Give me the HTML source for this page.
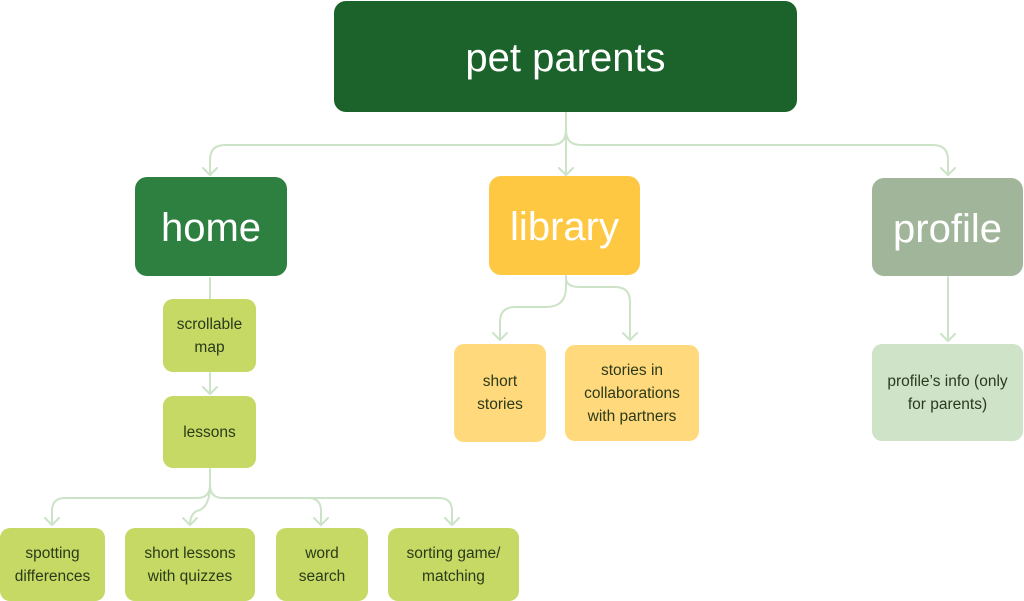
<!DOCTYPE html>
<html><head><style>
body{margin:0;width:1024px;height:601px;background:#fff;position:relative;overflow:hidden;font-family:"Liberation Sans",sans-serif}
.b{position:absolute;display:flex;align-items:center;justify-content:center;text-align:center;box-sizing:border-box}
.big{color:#fff;font-size:40px;border-radius:12px;padding-top:4px}
.sm{color:#2b3a1a;font-size:15.5px;line-height:23px;border-radius:10px}
svg{position:absolute;left:0;top:0}
</style></head><body>
<svg width="1024" height="601" fill="none" stroke="#cde3c8" stroke-width="2" stroke-linecap="round" stroke-linejoin="round">
<path d="M566 112V130Q566 145 551 145H225Q210 145 210 160V175"/>
<path d="M566 112V175"/>
<path d="M566 130Q566 145 581 145H933Q948 145 948 160V175"/>
<path d="M203 168L210 175L217 168M559 168L566 175L573 168M941 168L948 175L955 168"/>
<path d="M210 278V299"/>
<path d="M210 373V394M203 387L210 394L217 387"/>
<path d="M210 469V485Q210 498 197 498H65Q52 498 52 511V525M45 518L52 525L59 518"/>
<path d="M210 485Q210 505 200 510Q190 512 190 525M183 518L190 525L197 518"/>
<path d="M210 485Q210 498 223 498H308Q321 498 321 511V525M314 518L321 525L328 518"/>
<path d="M300 498H439Q452 498 452 511V525M445 518L452 525L459 518"/>
<path d="M566 276V287Q566 307 546 307H515Q500 307 500 322V340M493 333L500 340L507 333"/>
<path d="M566 278Q566 287 580 287H615Q630 287 630 302V340M623 333L630 340L637 333"/>
<path d="M948 277V341M941 334L948 341L955 334"/>
</svg>
<div class="b big" style="left:334px;top:1px;width:463px;height:111px;background:#1b632a">pet parents</div>
<div class="b big" style="left:135px;top:177px;width:152px;height:99px;background:#2e8040">home</div>
<div class="b big" style="left:489px;top:176px;width:151px;height:99px;background:#ffc843">library</div>
<div class="b big" style="left:872px;top:178px;width:151px;height:98px;background:#a0b59a">profile</div>
<div class="b sm" style="left:163px;top:299px;width:93px;height:73px;background:#c5d964">scrollable<br>map</div>
<div class="b sm" style="left:163px;top:396px;width:93px;height:72px;background:#c5d964">lessons</div>
<div class="b sm" style="left:0px;top:528px;width:105px;height:73px;background:#c5d964">spotting<br>differences</div>
<div class="b sm" style="left:125px;top:528px;width:130px;height:73px;background:#c5d964">short lessons<br>with quizzes</div>
<div class="b sm" style="left:276px;top:528px;width:92px;height:73px;background:#c5d964">word<br>search</div>
<div class="b sm" style="left:388px;top:528px;width:131px;height:73px;background:#c5d964">sorting game/<br>matching</div>
<div class="b sm" style="left:454px;top:344px;width:92px;height:98px;background:#ffd97b">short<br>stories</div>
<div class="b sm" style="left:565px;top:345px;width:134px;height:96px;background:#ffd97b">stories in<br>collaborations<br>with partners</div>
<div class="b sm" style="left:872px;top:344px;width:151px;height:97px;background:#cfe3c9">profile’s info (only<br>for parents)</div>
</body></html>
